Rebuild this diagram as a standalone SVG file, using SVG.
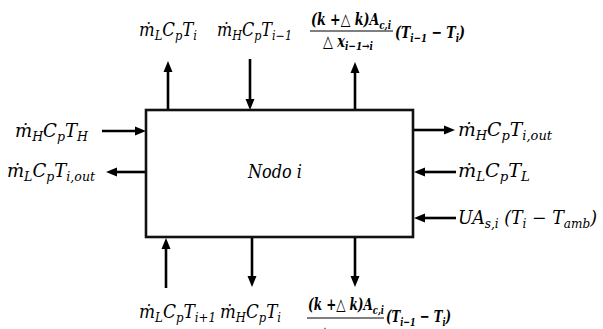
<svg xmlns="http://www.w3.org/2000/svg" width="603" height="329" viewBox="0 0 603 329">
<defs>
<style>
.t{font-family:"DejaVu Serif","Liberation Serif",serif;font-style:italic;font-size:18px;fill:#000}
.b{font-weight:bold;font-size:16.5px}
.s{font-size:12.5px}
.b .s{font-size:11.5px}
.ln{stroke:#000;stroke-width:2.6;fill:none}
.box{stroke:#111;stroke-width:2.6;fill:#fff}
.bar{stroke:#000;stroke-width:1.2}
</style>
<marker id="ah" markerUnits="userSpaceOnUse" markerWidth="12" markerHeight="10" refX="1" refY="5" orient="auto">
<path d="M0,0.5 L11,5 L0,9.5 z" fill="#000"/>
</marker>
</defs>
<rect width="603" height="329" fill="#fff"/>
<g id="connectors">
<line class="ln" x1="168" y1="110" x2="168" y2="71" marker-end="url(#ah)"/>
<line class="ln" x1="250" y1="59" x2="250" y2="100" marker-end="url(#ah)"/>
<line class="ln" x1="355" y1="110" x2="355" y2="72" marker-end="url(#ah)"/>
<line class="ln" x1="166" y1="288" x2="166" y2="248" marker-end="url(#ah)"/>
<line class="ln" x1="252" y1="238" x2="252" y2="277" marker-end="url(#ah)"/>
<line class="ln" x1="355" y1="238" x2="355" y2="277" marker-end="url(#ah)"/>
<line class="ln" x1="102" y1="131" x2="136" y2="131" marker-end="url(#ah)"/>
<line class="ln" x1="146" y1="172" x2="116" y2="172" marker-end="url(#ah)"/>
<line class="ln" x1="413" y1="130" x2="445" y2="130" marker-end="url(#ah)"/>
<line class="ln" x1="456" y1="172" x2="424" y2="172" marker-end="url(#ah)"/>
<line class="ln" x1="456" y1="218" x2="424" y2="218" marker-end="url(#ah)"/>
</g>
<g id="node-i">
<rect class="box" x="146" y="110" width="267" height="127"/>
<text class="t" x="248" y="178" textLength="54" lengthAdjust="spacingAndGlyphs">Nodo i</text>
</g>
<g id="labels">
<text class="t" x="139" y="36" textLength="58" lengthAdjust="spacingAndGlyphs">ṁ<tspan class="s" dy="4">L</tspan><tspan dy="-4">C</tspan><tspan class="s" dy="4">p</tspan><tspan dy="-4">T</tspan><tspan class="s" dy="4">i</tspan></text>
<text class="t" x="217" y="36" textLength="75" lengthAdjust="spacingAndGlyphs">ṁ<tspan class="s" dy="4">H</tspan><tspan dy="-4">C</tspan><tspan class="s" dy="4">p</tspan><tspan dy="-4">T</tspan><tspan class="s" dy="4">i−1</tspan></text>
<text class="t b" x="311" y="25" textLength="80" lengthAdjust="spacingAndGlyphs">(k +△ k)A<tspan class="s" dy="4">c,i</tspan></text>
<line class="bar" x1="310" y1="31" x2="393" y2="31"/>
<text class="t b" x="323" y="47" textLength="50" lengthAdjust="spacingAndGlyphs">△ x<tspan class="s" dy="3">i−1→i</tspan></text>
<text class="t b" x="395" y="38" textLength="70" lengthAdjust="spacingAndGlyphs">(T<tspan class="s" dy="4">i−1</tspan><tspan dy="-4"> − T</tspan><tspan class="s" dy="4">i</tspan><tspan dy="-4">)</tspan></text>

<text class="t" x="139" y="318" textLength="77" lengthAdjust="spacingAndGlyphs">ṁ<tspan class="s" dy="4">L</tspan><tspan dy="-4">C</tspan><tspan class="s" dy="4">p</tspan><tspan dy="-4">T</tspan><tspan class="s" dy="4">i+1</tspan></text>
<text class="t" x="220" y="318" textLength="61" lengthAdjust="spacingAndGlyphs">ṁ<tspan class="s" dy="4">H</tspan><tspan dy="-4">C</tspan><tspan class="s" dy="4">p</tspan><tspan dy="-4">T</tspan><tspan class="s" dy="4">i</tspan></text>
<text class="t b" x="308" y="310" textLength="76" lengthAdjust="spacingAndGlyphs">(k +△ k)A<tspan class="s" dy="4">c,i</tspan></text>
<line class="bar" x1="307" y1="318" x2="384" y2="318"/>
<text class="t b" x="320" y="338" textLength="50" lengthAdjust="spacingAndGlyphs">△ x<tspan class="s" dy="3">i+1→i</tspan></text>
<text class="t b" x="386" y="322" textLength="65" lengthAdjust="spacingAndGlyphs">(T<tspan class="s" dy="4">i−1</tspan><tspan dy="-4"> − T</tspan><tspan class="s" dy="4">i</tspan><tspan dy="-4">)</tspan></text>

<text class="t" x="15" y="137" textLength="73" lengthAdjust="spacingAndGlyphs">ṁ<tspan class="s" dy="4">H</tspan><tspan dy="-4">C</tspan><tspan class="s" dy="4">p</tspan><tspan dy="-4">T</tspan><tspan class="s" dy="4">H</tspan></text>
<text class="t" x="7" y="177" textLength="88" lengthAdjust="spacingAndGlyphs">ṁ<tspan class="s" dy="4">L</tspan><tspan dy="-4">C</tspan><tspan class="s" dy="4">p</tspan><tspan dy="-4">T</tspan><tspan class="s" dy="4">i,out</tspan></text>

<text class="t" x="458" y="136" textLength="94" lengthAdjust="spacingAndGlyphs">ṁ<tspan class="s" dy="4">H</tspan><tspan dy="-4">C</tspan><tspan class="s" dy="4">p</tspan><tspan dy="-4">T</tspan><tspan class="s" dy="4">i,out</tspan></text>
<text class="t" x="458" y="177" textLength="72" lengthAdjust="spacingAndGlyphs">ṁ<tspan class="s" dy="4">L</tspan><tspan dy="-4">C</tspan><tspan class="s" dy="4">p</tspan><tspan dy="-4">T</tspan><tspan class="s" dy="4">L</tspan></text>
<text class="t" x="458" y="224" textLength="139" lengthAdjust="spacingAndGlyphs">UA<tspan class="s" dy="4">s,i</tspan><tspan dy="-4"> (T</tspan><tspan class="s" dy="4">i</tspan><tspan dy="-4"> − T</tspan><tspan class="s" dy="4">amb</tspan><tspan dy="-4">)</tspan></text>
</g>
</svg>
